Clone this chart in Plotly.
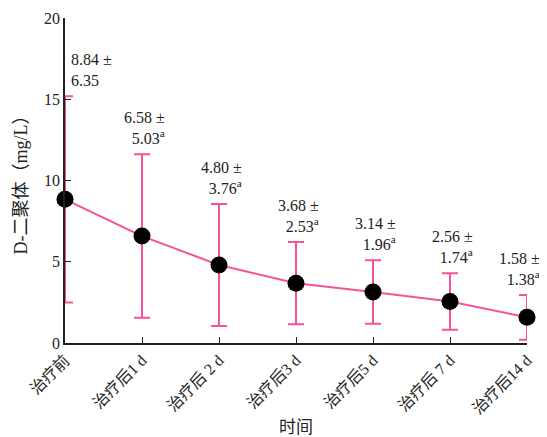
import plotly.graph_objects as go

categories = ["治疗前", "治疗后1 d", "治疗后 2 d", "治疗后3 d", "治疗后5 d", "治疗后 7 d", "治疗后14 d"]
means = [8.84, 6.58, 4.80, 3.68, 3.14, 2.56, 1.58]
sds = [6.35, 5.03, 3.76, 2.53, 1.96, 1.74, 1.38]
marks = ["", "a", "a", "a", "a", "a", "a"]
y_ticks = [0, 5, 10, 15, 20]

pink = "#F5529A"
xs = list(range(len(categories)))

fig = go.Figure()
fig.add_trace(go.Scatter(
    x=xs, y=means, mode="lines+markers",
    line=dict(color=pink, width=2),
    marker=dict(color="black", size=17),
    error_y=dict(type="data", array=sds, visible=True, color=pink, thickness=2, width=8),
    cliponaxis=False, showlegend=False,
))

font = "Liberation Serif, Noto Sans CJK SC"
last = len(means) - 1
for i, (m, s, k) in enumerate(zip(means, sds, marks)):
    sup = f"<sup>{k}</sup>" if k else ""
    txt = f"{m:.2f} ±<br>{s:.2f}{sup}"
    if i == 0:
        xa, xsh, al = "left", 4, "left"
    elif i == last:
        xa, xsh, al = "right", 15, "right"
    else:
        xa, xsh, al = "center", 2, "right"
    fig.add_annotation(x=i, y=m + s, text=txt, showarrow=False, xanchor=xa,
                       yanchor="bottom", xshift=xsh, yshift=5, align=al,
                       font=dict(family=font, size=16, color="#222"))

# axis titles
fig.add_annotation(xref="paper", yref="paper", x=0, y=0.5, xshift=-45, textangle=-90,
                   text="D-二聚体（mg/L）", showarrow=False, xanchor="center", yanchor="middle",
                   font=dict(family=font, size=18, color="#222"))
fig.add_annotation(xref="paper", yref="paper", x=0.5, y=0, yshift=-84, text="时间",
                   showarrow=False, xanchor="center", yanchor="middle",
                   font=dict(family=font, size=17, color="#222"))

fig.update_layout(
    width=539, height=429,
    margin=dict(l=57, r=20, t=10, b=94),
    paper_bgcolor="white", plot_bgcolor="white",
    font=dict(family=font, size=14, color="#222"),
    xaxis=dict(range=[0, 6], tickvals=xs, ticktext=categories, tickangle=-45,
               showgrid=False, zeroline=False, showline=True, linecolor="#222", linewidth=1.5,
               ticks="inside", ticklen=6, tickcolor="#222", automargin=False,
               tickfont=dict(family=font, size=16)),
    yaxis=dict(range=[0, 20], tickvals=y_ticks, showgrid=False, zeroline=False,
               showline=True, linecolor="#222", linewidth=1.5,
               ticks="inside", ticklen=6, tickcolor="#222", automargin=False,
               tickfont=dict(family=font, size=16)),
)

fig.write_html("out.html")
